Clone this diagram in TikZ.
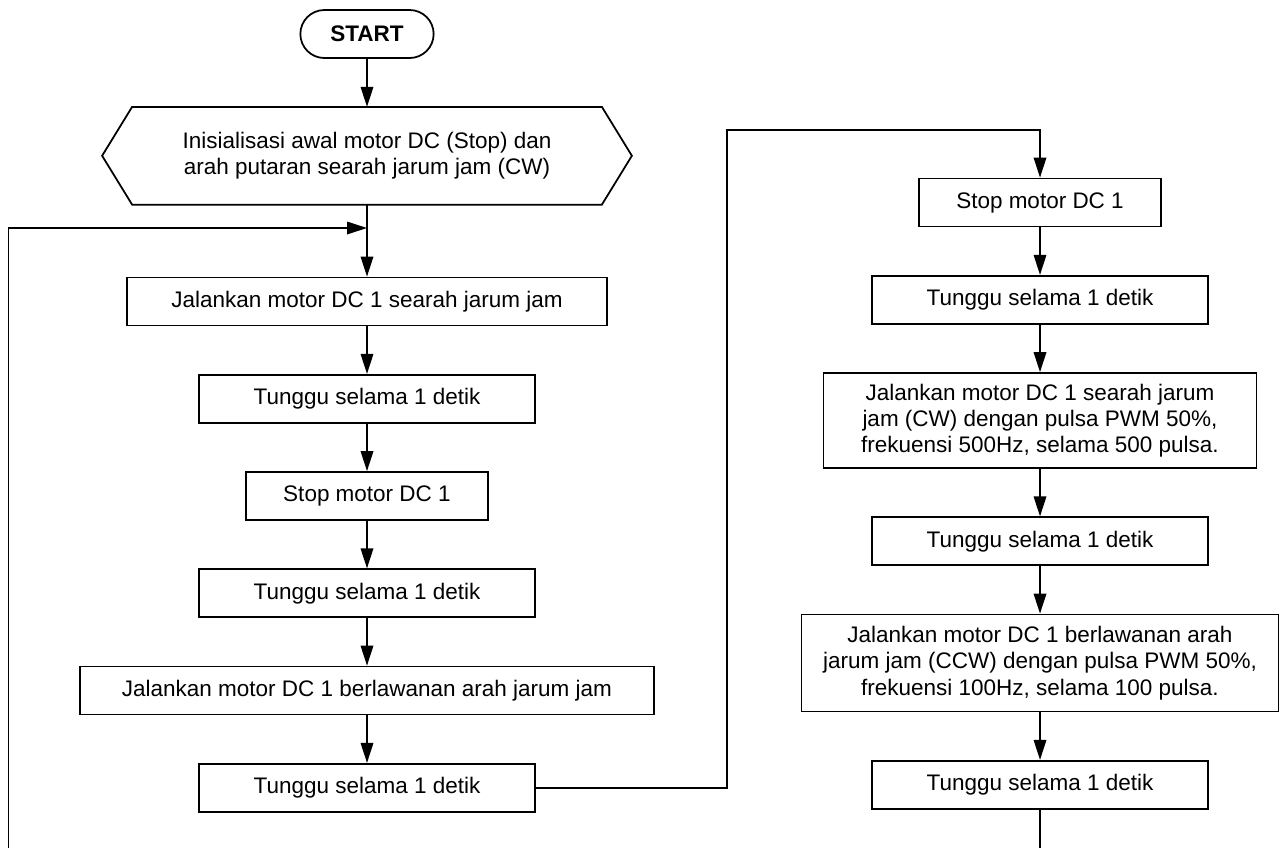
\documentclass[tikz,border=0pt]{standalone}
\usepackage{fontspec}
\setmainfont{Liberation Sans}
\usetikzlibrary{arrows.meta,positioning,shapes.misc}

\begin{document}
\begin{tikzpicture}[->,>={Triangle[length=0.4cm,width=0.25cm]},line width=1pt,node distance=0.95cm,
  proc node/.style={rectangle,draw,minimum height=0.96cm,align=center,font=\fontsize{12.8}{14.9}\selectfont},
  term node/.style={rounded rectangle,draw,minimum width=2.9cm,minimum height=0.96cm,font=\fontsize{12.8}{14.9}\selectfont\bfseries}]

\useasboundingbox (0,0) rectangle (25.58,-16.96);

% linke Spalte, Start und Initialisierung
  \node[term node] (mulai) at (7.34,-0.68) {START};
  \node[proc node,draw=none,minimum width=9.36cm,minimum height=1.92cm] (init) [below=0.96cm of mulai] {Inisialisasi awal motor DC (Stop) dan\\arah putaran searah jarum jam (CW)};
  \draw[-] (init.north west) -- (init.north east) -- ([xshift=0.6cm]init.east) -- (init.south east) -- (init.south west) -- ([xshift=-0.6cm]init.west) -- cycle; % Sechseck von Hand
  \node[proc node,minimum width=9.6cm] (cw1) [below=1.44cm of init] {Jalankan motor DC 1 searah jarum jam};
  \node[proc node,minimum width=6.72cm] (t1) [below=of cw1] {Tunggu selama 1 detik};
  \node[proc node,minimum width=4.84cm] (stop1) [below=of t1] {Stop motor DC 1};
  \node[proc node,minimum width=6.72cm] (t2) [below=of stop1] {Tunggu selama 1 detik};
  \node[proc node,minimum width=11.48cm] (ccw1) [below=of t2] {Jalankan motor DC 1 berlawanan arah jarum jam};
  \node[proc node,minimum width=6.72cm] (t3) [below=of ccw1] {Tunggu selama 1 detik};

% rechte Spalte
  \node[proc node,minimum width=4.84cm] (stop2) at (20.8,-4.05) {Stop motor DC 1};
  \node[proc node,minimum width=6.72cm] (t4) [below=of stop2] {Tunggu selama 1 detik};
  \node[proc node,minimum width=8.66cm,minimum height=1.9cm] (pwm1) [below=of t4] {Jalankan motor DC 1 searah jarum\\jam (CW) dengan pulsa PWM 50\%,\\frekuensi 500Hz, selama 500 pulsa.};
  \node[proc node,minimum width=6.72cm] (t5) [below=of pwm1] {Tunggu selama 1 detik};
  \node[proc node,minimum width=9.54cm,minimum height=1.94cm] (pwm2) [below=of t5] {Jalankan motor DC 1 berlawanan arah\\jarum jam (CCW) dengan pulsa PWM 50\%,\\frekuensi 100Hz, selama 100 pulsa.};
  \node[proc node,minimum width=6.72cm] (t6) [below=of pwm2] {Tunggu selama 1 detik};

% Hilfspunkte für die Rückführung
  \coordinate (gabung) at (7.34,-4.56);
  \coordinate (kiri) at (0.17,-16.96);
  \coordinate (naik) at (14.54,-2.6);
  \coordinate (bawah) at (20.8,-16.96);

% Übergänge
  \path (mulai) edge (init)
    (init) edge (cw1)
    (cw1) edge (t1)
    (t1) edge (stop1)
    (stop1) edge (t2)
    (t2) edge (ccw1)
    (ccw1) edge (t3)
    (stop2) edge (t4)
    (t4) edge (pwm1)
    (pwm1) edge (t5)
    (t5) edge (pwm2)
    (pwm2) edge (t6)
;
  \draw (kiri) |- (gabung); % Schleife zurück nach oben
  \draw (t3) -| (naik) -| (stop2);
  \draw[-] (t6) -- (bawah);
\end{tikzpicture}
\end{document}
